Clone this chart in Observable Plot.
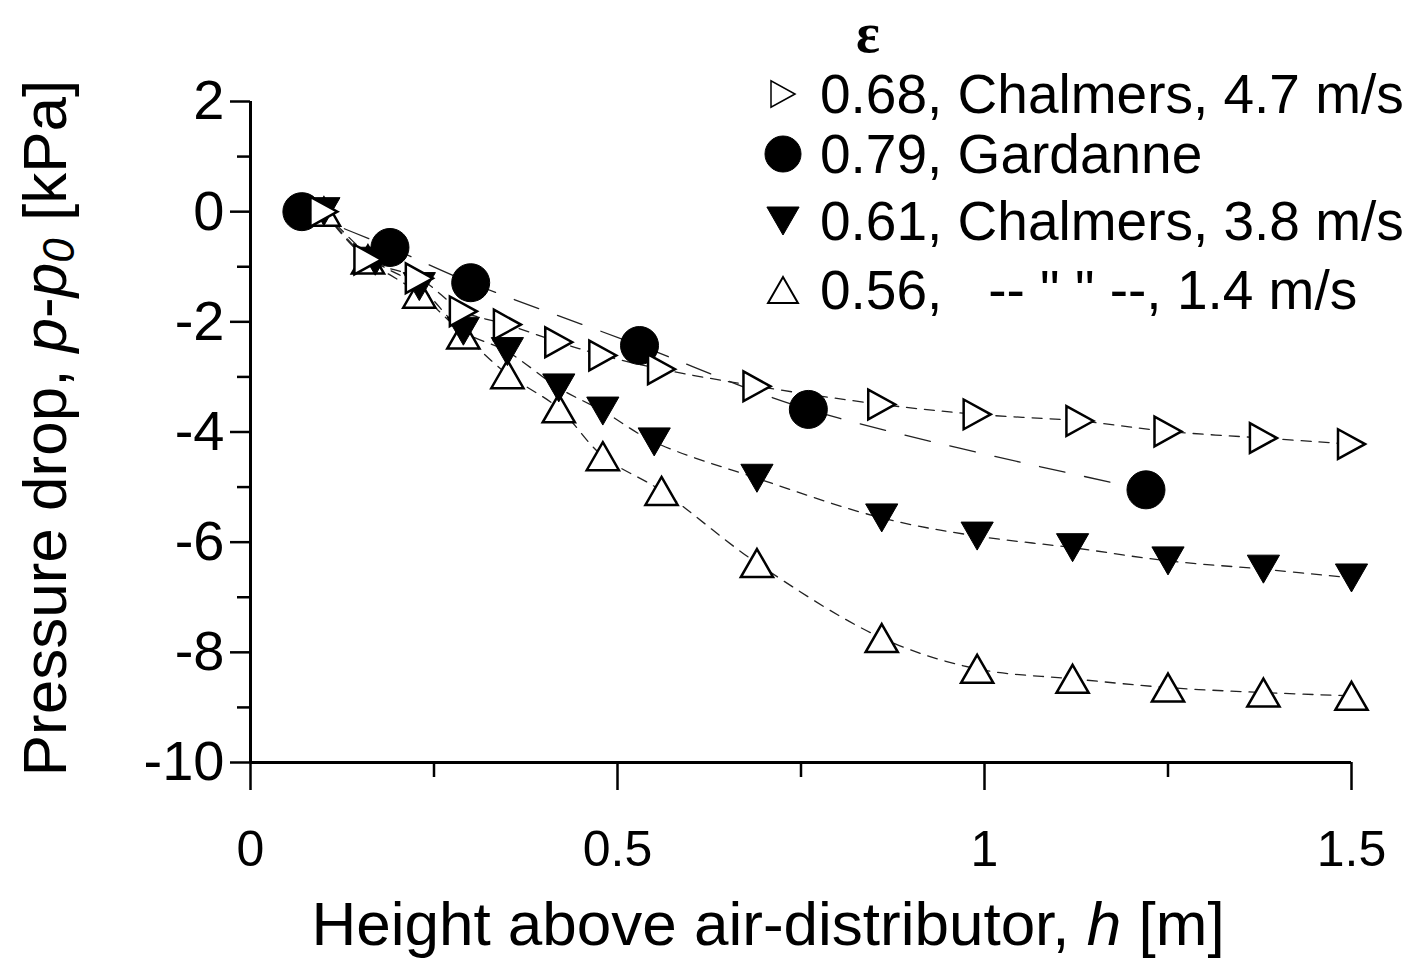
<!DOCTYPE html>
<html><head><meta charset="utf-8">
<script src="https://cdn.jsdelivr.net/npm/d3@7"></script>
<script src="https://cdn.jsdelivr.net/npm/@observablehq/plot@0.6"></script>
<style>
body{margin:0;background:#fff;}
#wrap{position:relative;width:1415px;height:958px;font-family:"Liberation Sans",Arial,sans-serif;}
.row{position:absolute;left:760px;height:60px;line-height:60px;display:flex;align-items:center;white-space:pre;font-size:55px;color:#000;}
.row svg{flex:none;}
</style></head><body><div id="wrap"></div>
<script>
// ---- data ----
const hRight = [0.10, 0.16, 0.23, 0.29, 0.35, 0.42, 0.48, 0.56, 0.69, 0.86, 0.99, 1.13, 1.25, 1.38, 1.50];
const pRight = [0, -0.87, -1.21, -1.81, -2.05, -2.37, -2.61, -2.86, -3.17, -3.50, -3.68, -3.80, -3.99, -4.11, -4.22];

const hCirc = [0.07, 0.19, 0.30, 0.53, 0.76, 1.22];
const pCirc = [0, -0.65, -1.29, -2.43, -3.59, -5.05];

const hDown = [0.10, 0.17, 0.23, 0.29, 0.35, 0.42, 0.48, 0.55, 0.69, 0.86, 0.99, 1.12, 1.25, 1.38, 1.50];
const pDown = [0, -0.90, -1.36, -2.17, -2.54, -3.20, -3.62, -4.18, -4.84, -5.56, -5.89, -6.10, -6.34, -6.49, -6.65];

const hUp = [0.10, 0.16, 0.23, 0.29, 0.35, 0.42, 0.48, 0.56, 0.69, 0.86, 0.99, 1.12, 1.25, 1.38, 1.50];
const pUp = [0, -0.87, -1.49, -2.23, -2.95, -3.57, -4.44, -5.07, -6.38, -7.74, -8.30, -8.48, -8.64, -8.73, -8.79];

const legendTitle = "ε";
const legendLabels = ["0.68, Chalmers, 4.7 m/s", "0.79, Gardanne", "0.61, Chalmers, 3.8 m/s", "0.56,   -- \" \" --, 1.4 m/s"];
const xTicks = [0, 0.5, 1, 1.5];
const xMinor = [0.25, 0.75, 1.25];
const yTicks = [2, 0, -2, -4, -6, -8, -10];
const yMinor = [1, -1, -3, -5, -7, -9];
const xDomain = [0, 1.5];
const yDomain = [-10, 2];

// ---- symbols (centred on their bounding box) ----
const triUp = {draw(c, s){const r=Math.sqrt(s/Math.PI), w=r*1.15; c.moveTo(0,-r); c.lineTo(w,r); c.lineTo(-w,r); c.closePath();}};
const triDown = {draw(c, s){const r=Math.sqrt(s/Math.PI), w=r*1.15; c.moveTo(0,r); c.lineTo(w,-r); c.lineTo(-w,-r); c.closePath();}};
const triRight = {draw(c, s){const r=Math.sqrt(s/Math.PI), w=r*1.1; c.moveTo(r,0); c.lineTo(-r,w); c.lineTo(-r,-w); c.closePath();}};

const rows = (h, p) => h.map((x, i) => ({h: x, p: p[i]}));
const right = rows(hRight, pRight), circ = rows(hCirc, pCirc), down = rows(hDown, pDown), up = rows(hUp, pUp);

const lineOpts = {x: "h", y: "p", curve: "catmull-rom", stroke: "#222", strokeWidth: 1.3};

const chart = Plot.plot({
  width: 1415, height: 958,
  marginLeft: 250, marginRight: 64, marginTop: 101, marginBottom: 196,
  x: {domain: xDomain, label: null},
  y: {domain: yDomain, label: null},
  style: {fontFamily: "Liberation Sans, Arial, sans-serif", background: "white", color: "black"},
  marks: [
    Plot.axisY({ticks: yTicks, tickSize: 20, tickPadding: 6, fontSize: 56, strokeWidth: 2.5, tickFormat: d => String(d), label: null}),
    Plot.axisY({ticks: yMinor, tickSize: 13, strokeWidth: 2.5, tickFormat: () => "", label: null}),
    Plot.axisX({ticks: xTicks, tickSize: 28, tickPadding: 40, fontSize: 50, strokeWidth: 2.5, tickFormat: d => String(d), label: null}),
    Plot.axisX({ticks: xMinor, tickSize: 15, strokeWidth: 2.5, tickFormat: () => "", label: null}),
    Plot.ruleX([xDomain[0]], {y1: yDomain[0], y2: yDomain[1], strokeWidth: 3}),
    Plot.ruleY([yDomain[0]], {x1: xDomain[0], x2: xDomain[1], strokeWidth: 3}),
    Plot.line(right, {...lineOpts, strokeDasharray: "10,8"}),
    Plot.line(circ, {...lineOpts, strokeDasharray: "26,20"}),
    Plot.line(down, {...lineOpts, strokeDasharray: "10,8"}),
    Plot.line(up, {...lineOpts, strokeDasharray: "10,8"}),
    Plot.dot(up, {x: "h", y: "p", symbol: triUp, r: 14, fill: "white", stroke: "black", strokeWidth: 2.5}),
    Plot.dot(down, {x: "h", y: "p", symbol: triDown, r: 14, fill: "black", stroke: "black", strokeWidth: 1}),
    Plot.dot(circ, {x: "h", y: "p", symbol: "circle", r: 19, fill: "black", stroke: "black", strokeWidth: 1}),
    Plot.dot(right, {x: "h", y: "p", symbol: triRight, r: 13.5, fill: "white", stroke: "black", strokeWidth: 2.5})
  ]
});

const wrap = document.getElementById("wrap");
wrap.appendChild(chart);

// axis titles
const svg = d3.select(chart);
const xt = svg.append("text").attr("x", 768).attr("y", 945).attr("text-anchor", "middle")
  .attr("font-size", 62).attr("font-family", "Liberation Sans, Arial, sans-serif").attr("fill", "black");
xt.append("tspan").text("Height above air-distributor, ");
xt.append("tspan").attr("font-style", "italic").text("h");
xt.append("tspan").text(" [m]");

const yt = svg.append("text").attr("transform", "translate(66,428) rotate(-90)").attr("text-anchor", "middle")
  .attr("font-size", 62).attr("font-family", "Liberation Sans, Arial, sans-serif").attr("fill", "black");
yt.append("tspan").text("Pressure drop, ");
yt.append("tspan").attr("font-style", "italic").text("p");
yt.append("tspan").text("-");
yt.append("tspan").attr("font-style", "italic").text("p");
yt.append("tspan").attr("font-style", "italic").attr("font-size", 44).attr("dy", 8).text("0");
yt.append("tspan").attr("dy", -8).text(" [kPa]");

// legend title (epsilon)
svg.append("text").attr("x", 868).attr("y", 52).attr("text-anchor", "middle")
  .attr("font-size", 56).attr("font-weight", "bold").attr("font-family", "Liberation Serif, serif")
  .attr("fill", "black").text(legendTitle);

// legend rows
const legendSyms = [
  {sym: triRight, size: Math.PI*12*12, fill: "white", sw: 1.5},
  {sym: d3.symbolCircle, size: Math.PI*18*18, fill: "black", sw: 1},
  {sym: triDown, size: Math.PI*14*14, fill: "black", sw: 1},
  {sym: triUp, size: Math.PI*13*13, fill: "white", sw: 2}
];
const rowCenters = [94, 154, 221, 290];
legendLabels.forEach((lab, i) => {
  const row = document.createElement("div");
  row.className = "row";
  row.style.top = (rowCenters[i] - 30) + "px";
  const s = d3.create("svg").attr("width", 60).attr("height", 60);
  s.append("path").attr("transform", "translate(23,30)")
    .attr("d", d3.symbol().type(legendSyms[i].sym).size(legendSyms[i].size)())
    .attr("fill", legendSyms[i].fill).attr("stroke", "black").attr("stroke-width", legendSyms[i].sw);
  row.appendChild(s.node());
  const t = document.createElement("span");
  t.textContent = lab;
  row.appendChild(t);
  wrap.appendChild(row);
});
</script></body></html>
